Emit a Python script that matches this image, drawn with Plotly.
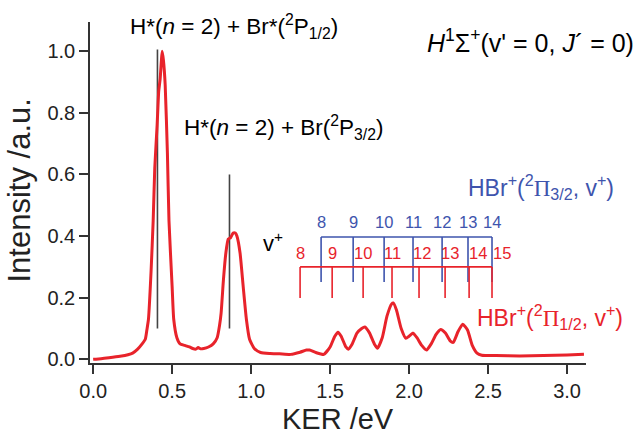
import plotly.graph_objects as go

# ---------------- data ----------------
ker = [0.00, 0.05, 0.10, 0.17, 0.22, 0.25, 0.28, 0.31, 0.33, 0.34, 0.35, 0.367, 0.38, 0.39,
       0.405, 0.415, 0.424, 0.432, 0.437, 0.445, 0.456, 0.47, 0.48, 0.50, 0.51, 0.53, 0.55,
       0.58, 0.61, 0.63, 0.65, 0.665, 0.68, 0.70, 0.73, 0.76, 0.785, 0.80, 0.81, 0.825, 0.84,
       0.855, 0.87, 0.886, 0.90, 0.91, 0.93, 0.95, 0.97, 0.99, 1.02, 1.06, 1.12, 1.18, 1.25,
       1.31, 1.35, 1.37, 1.41, 1.46, 1.50, 1.53, 1.55, 1.57, 1.60, 1.615, 1.64, 1.67, 1.70,
       1.72, 1.75, 1.78, 1.80, 1.83, 1.86, 1.89, 1.90, 1.92, 1.95, 1.98, 2.00, 2.025, 2.05,
       2.08, 2.11, 2.14, 2.17, 2.20, 2.23, 2.26, 2.28, 2.31, 2.34, 2.37, 2.40, 2.43, 2.46,
       2.55, 2.70, 2.85, 3.00, 3.107]
intensity = [0.000, 0.002, 0.005, 0.010, 0.015, 0.020, 0.032, 0.050, 0.065, 0.095, 0.13, 0.29,
             0.45, 0.62, 0.76, 0.87, 0.91, 0.97, 1.00, 0.97, 0.89, 0.67, 0.45, 0.235, 0.13,
             0.07, 0.05, 0.045, 0.04, 0.035, 0.033, 0.038, 0.034, 0.035, 0.04, 0.05, 0.07, 0.11,
             0.15, 0.26, 0.345, 0.39, 0.395, 0.41, 0.41, 0.40, 0.345, 0.235, 0.13, 0.065, 0.035,
             0.022, 0.019, 0.018, 0.016, 0.023, 0.03, 0.03, 0.022, 0.016, 0.04, 0.075, 0.088,
             0.075, 0.04, 0.033, 0.05, 0.085, 0.10, 0.105, 0.085, 0.05, 0.036, 0.07, 0.14, 0.18,
             0.183, 0.16, 0.10, 0.068, 0.075, 0.085, 0.07, 0.045, 0.03, 0.05, 0.08, 0.097, 0.085,
             0.06, 0.055, 0.09, 0.114, 0.095, 0.045, 0.02, 0.013, 0.012, 0.011, 0.012, 0.014,
             0.016]

# dissociation limits (black sticks)
limit_ker = [0.407, 0.863]
limit_top = [1.006, 0.60]
limit_bottom = 0.10

# vibrational combs
blue_v = [8, 9, 10, 11, 12, 13, 14]
blue_ker = [1.443, 1.646, 1.842, 2.025, 2.209, 2.373, 2.525]
blue_top, blue_bottom, blue_label_y = 0.397, 0.251, 0.446

red_v = [8, 9, 10, 11, 12, 13, 14, 15]
red_ker = [1.310, 1.513, 1.709, 1.892, 2.063, 2.228, 2.380, 2.525]
red_top, red_bottom, red_label_y = 0.30, 0.199, 0.345

x_ticks = [0.0, 0.5, 1.0, 1.5, 2.0, 2.5, 3.0]
y_ticks = [0.0, 0.2, 0.4, 0.6, 0.8, 1.0]

RED = "#e8232b"
BLUE = "#3e54ad"
DARK = "#333333"
TXT = "#222222"
FONT = "Liberation Sans, Arial, sans-serif"

fig = go.Figure()

# black limit sticks
sx, sy = [], []
for k, t in zip(limit_ker, limit_top):
    sx += [k, k, None]
    sy += [limit_bottom, t, None]
fig.add_trace(go.Scatter(x=sx, y=sy, mode="lines", line=dict(color="#444444", width=1.6),
                         hoverinfo="skip", showlegend=False))

def comb(xs, top, bottom, color):
    cx, cy = [xs[0], xs[-1], None], [top, top, None]
    for k in xs:
        cx += [k, k, None]
        cy += [top, bottom, None]
    fig.add_trace(go.Scatter(x=cx, y=cy, mode="lines", line=dict(color=color, width=1.6),
                             hoverinfo="skip", showlegend=False))

comb(blue_ker, blue_top, blue_bottom, BLUE)
comb(red_ker, red_top, red_bottom, RED)

# spectrum
fig.add_trace(go.Scatter(x=ker, y=intensity, mode="lines",
                         line=dict(color=RED, width=3, shape="spline", smoothing=0.5),
                         showlegend=False))

ann = []
def txt(x, y, s, size=22, color="black", **kw):
    ann.append(dict(x=x, y=y, xref="x", yref="y", text=s, showarrow=False,
                    font=dict(family=FONT, size=size, color=color), **kw))

PI = '<span style="font-family:Liberation Serif">Π</span>'
txt(0.892, 1.081, "H*(<i>n</i> = 2) + Br*(<sup>2</sup>P<sub>1/2</sub>)", size=22.5)
txt(1.206, 0.752, "H*(<i>n</i> = 2) + Br(<sup>2</sup>P<sub>3/2</sub>)", size=22.5)
txt(2.766, 1.033, "<i>H</i><sup>1</sup>Σ<sup>+</sup>(v' = 0, <i>J</i>´ = 0)", size=25)
txt(2.838, 0.56, "HBr<sup>+</sup>(<sup>2</sup>" + PI + "<sub>3/2</sub>, v<sup>+</sup>)", size=23, color=BLUE)
txt(2.892, 0.137, "HBr<sup>+</sup>(<sup>2</sup>" + PI + "<sub>1/2</sub>, v<sup>+</sup>)", size=23, color=RED)
txt(1.139, 0.381, "v<sup>+</sup>", size=22)

for v, k in zip(blue_v, blue_ker):
    txt(k, blue_label_y, str(v), size=16.5, color=BLUE)
red_shift = {12: 3, 13: 5, 14: 9, 15: 10}
for v, k in zip(red_v, red_ker):
    txt(k, red_label_y, str(v), size=16.5, color=RED, xshift=red_shift.get(v, 0))

# axis titles
ann.append(dict(x=0.5, y=0, xref="paper", yref="paper", yanchor="middle", yshift=-56,
                text="KER /eV", showarrow=False, font=dict(family=FONT, size=29, color=TXT)))
ann.append(dict(x=0, y=0.5, xref="paper", yref="paper", xanchor="center", xshift=-71, yshift=2,
                textangle=-90, text="Intensity /a.u.", showarrow=False,
                font=dict(family=FONT, size=31, color=TXT)))

fig.update_layout(
    width=638, height=435,
    margin=dict(l=90, r=52, t=22, b=72, autoexpand=False),
    paper_bgcolor="white", plot_bgcolor="white",
    font=dict(family=FONT, color=TXT),
    annotations=ann,
    xaxis=dict(range=[-0.02, 3.12], tickvals=x_ticks, ticktext=[f"{v:.1f}" for v in x_ticks],
               showgrid=False, zeroline=False, showline=True, linecolor=DARK, linewidth=1.5,
               ticks="outside", ticklen=9, tickwidth=1.5, tickcolor=DARK, automargin=False,
               tickfont=dict(size=20, family=FONT, color=TXT)),
    yaxis=dict(range=[-0.012, 1.095], tickvals=y_ticks, ticktext=[f"{v:.1f}" for v in y_ticks],
               showgrid=False, zeroline=False, showline=True, linecolor=DARK, linewidth=1.5,
               ticks="outside", ticklen=9, tickwidth=1.5, tickcolor=DARK, automargin=False,
               tickfont=dict(size=20, family=FONT, color=TXT)),
)

fig.write_html("out.html")
